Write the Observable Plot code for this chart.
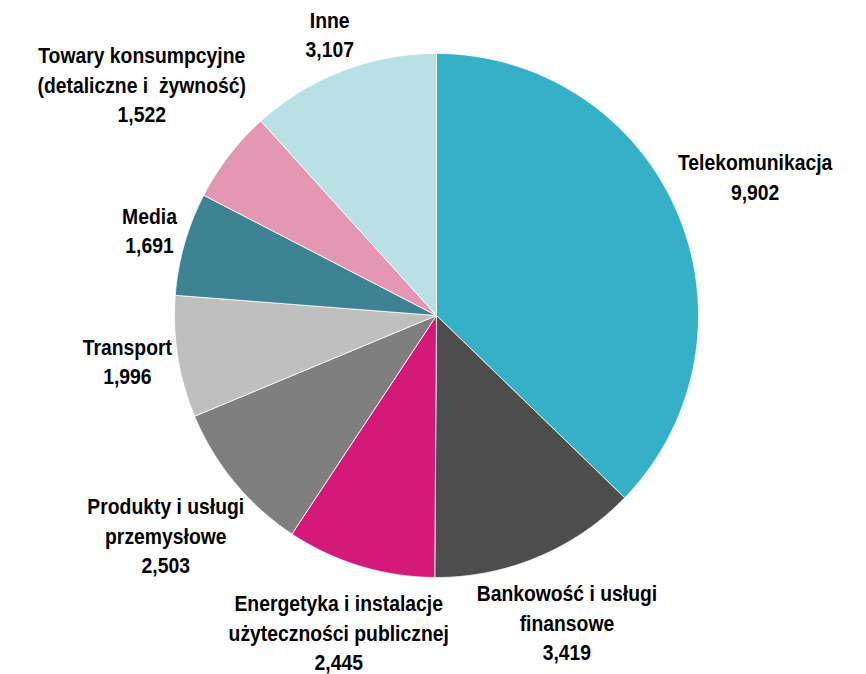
<!DOCTYPE html>
<html><head><meta charset="utf-8">
<script src="https://cdn.jsdelivr.net/npm/d3@7"></script>
<script src="https://cdn.jsdelivr.net/npm/@observablehq/plot@0.6"></script>
<style>body{margin:0;background:#fff;overflow:hidden}</style>
</head><body><div id="chart"></div>
<script>
// ---- data ----
const sectors = ["Telekomunikacja", "Bankowość i usługi finansowe", "Energetyka i instalacje użyteczności publicznej", "Produkty i usługi przemysłowe", "Transport", "Media", "Towary konsumpcyjne (detaliczne i  żywność)", "Inne"];
const labelLines = [["Telekomunikacja"], ["Bankowość i usługi", "finansowe"], ["Energetyka i instalacje", "użyteczności publicznej"], ["Produkty i usługi", "przemysłowe"], ["Transport"], ["Media"], ["Towary konsumpcyjne", "(detaliczne i  żywność)"], ["Inne"]];
const values = [9902, 3419, 2445, 2503, 1996, 1691, 1522, 3107];
const colors = ["#36B0C6", "#4D4D4D", "#D4197A", "#7F7F7F", "#BFBFBF", "#3E8393", "#E397B2", "#B9E0E5"];

// ---- layout ----
const W = 866, H = 674, R = 262, CX = 436, CY = 315;
const FONT = "'Liberation Sans', Arial, sans-serif";
const FS = 22.5, LH = 29.5, NARROW = 0.86, GAP = 3;

const arcs = d3.pie().sort(null).value(d => d)(values);

const slicePts = [];
arcs.forEach((a, i) => {
  const name = sectors[i];
  slicePts.push({k: name, x: 0, y: 0});
  const n = Math.max(2, Math.ceil((a.endAngle - a.startAngle) / 0.005));
  for (let j = 0; j <= n; j++) {
    const t = a.startAngle + (a.endAngle - a.startAngle) * j / n;
    slicePts.push({k: name, x: Math.sin(t), y: Math.cos(t)});
  }
  slicePts.push({k: name, x: 0, y: 0});
});

const ctx = document.createElement("canvas").getContext("2d");
ctx.font = `bold ${FS}px ${FONT}`;
const fmt = d3.format(",");
const labels = arcs.map((a, i) => {
  const lines = [...labelLines[i], fmt(values[i])];
  const w = d3.max(lines, l => ctx.measureText(l).width) * NARROW;
  const h = lines.length * LH - 8;
  const m = (a.startAngle + a.endAngle) / 2;
  const s = Math.sin(m), c = Math.cos(m);
  const d = 1 + (GAP + Math.abs(s) * w / 2 + Math.abs(c) * h / 2) / R;
  return {text: lines.join("\n"), x: s * d, y: c * d};
});

const chart = Plot.plot({
  width: W, height: H,
  margin: 0,
  x: {domain: [-CX / R, (W - CX) / R], axis: null},
  y: {domain: [-(H - CY) / R, CY / R], axis: null},
  color: {domain: sectors, range: colors},
  marks: [
    Plot.line(slicePts, {x: "x", y: "y", z: "k", fill: "k", stroke: "white", strokeWidth: 0.8, strokeLinejoin: "round"}),
    Plot.text(labels, {x: "x", y: "y", text: "text", textAnchor: "middle", lineAnchor: "middle", dy: -5,
      lineHeight: LH / FS, fontSize: FS, fontWeight: "bold", fontFamily: FONT, fill: "#000"})
  ]
});
// condensed lettering, like the narrow face of the original
d3.select(chart).selectAll("text").each(function() {
  const t = this.getAttribute("transform") || "";
  this.setAttribute("transform", t + ` scale(${NARROW},1)`);
});
document.getElementById("chart").append(chart);
</script>
</body></html>
